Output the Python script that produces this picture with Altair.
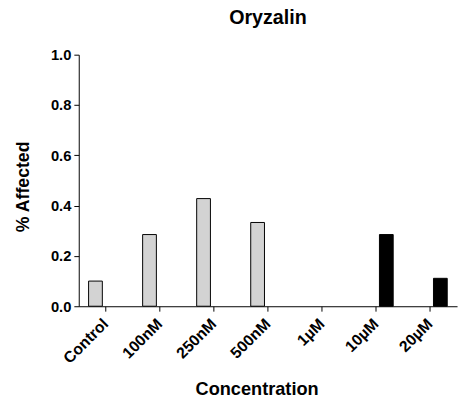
import altair as alt
import pandas as pd

categories = ["Control", "100nM", "250nM", "500nM", "1µM", "10µM", "20µM"]
series_names = ["Low", "High"]
low_values = [0.10, 0.285, 0.428, 0.333, 0.0, None, None]
high_values = [None, None, None, None, None, 0.285, 0.111]

rows = []
for c, v in zip(categories, low_values):
    if v:
        rows.append({"Concentration": c, "Series": "Low", "Value": v})
for c, v in zip(categories, high_values):
    if v:
        rows.append({"Concentration": c, "Series": "High", "Value": v})
df = pd.DataFrame(rows)

FONT = "Liberation Sans"

chart = alt.Chart(df).mark_bar(stroke="black", strokeWidth=1).encode(
    x=alt.X("Concentration:N", sort=categories,
            scale=alt.Scale(domain=categories, paddingInner=0.364, paddingOuter=0.182),
            axis=alt.Axis(title="Concentration", labelAngle=-45, labelAlign="right",
                          labelBaseline="middle", labelFont=FONT, labelFontWeight="bold",
                          labelFontSize=16, labelColor="black", labelPadding=10,
                          titleFont=FONT, titleFontWeight="bold", titleFontSize=18.5,
                          titleColor="black", titlePadding=14, titleX=181,
                          domainColor="black", tickColor="black", tickSize=5,
                          domainWidth=1, tickWidth=1)),
    xOffset=alt.XOffset("Series:N", sort=series_names,
                        scale=alt.Scale(domain=series_names, paddingInner=1/3, paddingOuter=0)),
    y=alt.Y("Value:Q", scale=alt.Scale(domain=[0, 1]),
            axis=alt.Axis(title="% Affected", values=[0, 0.2, 0.4, 0.6, 0.8, 1.0], format=".1f",
                          labelFont=FONT, labelFontWeight="bold", labelFontSize=15,
                          labelColor="black", grid=False, labelPadding=3,
                          titleFont=FONT, titleFontWeight="bold", titleFontSize=18,
                          titleColor="black", titlePadding=18, titleY=134,
                          domainColor="black", tickColor="black", tickSize=5,
                          domainWidth=1, tickWidth=1)),
    fill=alt.Fill("Series:N", scale=alt.Scale(domain=series_names, range=["#d3d3d3", "black"]),
                  legend=None),
).properties(
    width=385, height=256,
    title=alt.TitleParams("Oryzalin", font=FONT, fontWeight="bold", fontSize=20, color="black",
                          offset=20),
    autosize=alt.AutoSizeParams(type="none"),
    padding={"left": 72, "top": 44, "right": 4, "bottom": 98},
).configure_view(stroke=None)

chart.save("out.html", embed_options={"renderer": "svg", "actions": False})
